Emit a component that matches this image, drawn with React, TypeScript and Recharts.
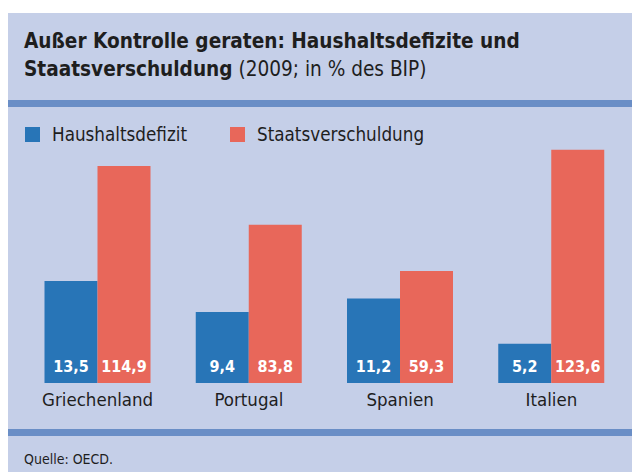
import { Bar, BarChart, LabelList, XAxis, YAxis } from "recharts";

const categories = ["Griechenland", "Portugal", "Spanien", "Italien"];
const haushaltsdefizit = [13.5, 9.4, 11.2, 5.2];
const staatsverschuldung = [114.9, 83.8, 59.3, 123.6];
const seriesNames = ["Haushaltsdefizit", "Staatsverschuldung"];

const BLUE = "#2875b7";
const RED = "#e8675a";
const PANEL = "#c5cfe8";
const STRIPE = "#6a8ec6";
const INK = "#1e1e1e";
const FONT = '"Liberation Sans Narrow", "DejaVu Sans Condensed", Roboto, sans-serif';

const data = categories.map((name, i) => ({
  name,
  defizit: haushaltsdefizit[i],
  schulden: staatsverschuldung[i],
}));

const fmt = (v: unknown) => Number(v).toFixed(1).replace(".", ",");

export default function App() {
  return (
    <div
      style={{
        position: "fixed",
        left: 0,
        top: 0,
        width: 632,
        height: 472,
        overflow: "hidden",
        background: "#fff",
        fontFamily: FONT,
        color: INK,
      }}
    >
      <div style={{ position: "absolute", left: 8, top: 13, width: 624, height: 459, background: PANEL }} />
      <div style={{ position: "absolute", left: 8, top: 100, width: 624, height: 7, background: STRIPE }} />
      <div style={{ position: "absolute", left: 8, top: 429, width: 624, height: 7, background: STRIPE }} />

      <div style={{ position: "absolute", left: 24, top: 27, fontSize: 20.6, lineHeight: "28px" }}>
        <div style={{ fontWeight: 700 }}>Außer Kontrolle geraten: Haushaltsdefizite und</div>
        <div>
          <span style={{ fontWeight: 700 }}>Staatsverschuldung</span> (2009; in % des BIP)
        </div>
      </div>

      {/* legend */}
      <div style={{ position: "absolute", left: 25, top: 124, display: "flex", alignItems: "center", fontSize: 18.7 }}>
        <span style={{ width: 15, height: 15, background: BLUE, display: "inline-block" }} />
        <span style={{ marginLeft: 12, width: 178 }}>{seriesNames[0]}</span>
        <span style={{ width: 15, height: 15, background: RED, display: "inline-block" }} />
        <span style={{ marginLeft: 12 }}>{seriesNames[1]}</span>
      </div>

      <div style={{ position: "absolute", left: 24, top: 451, fontSize: 14 }}>Quelle: OECD.</div>

      <div style={{ position: "absolute", left: 0, top: 0 }}>
        <BarChart
          width={632}
          height={472}
          data={data}
          margin={{ top: 147, right: 5, bottom: 59, left: 22 }}
          barGap={0}
          barCategoryGap={22.5}
        >
          <YAxis yAxisId="def" hide domain={[0, 31.25]} />
          <YAxis yAxisId="debt" hide domain={[0, 125]} />
          <XAxis
            dataKey="name"
            height={30}
            axisLine={false}
            tickLine={false}
            tickSize={0}
            tickMargin={10}
            interval={0}
            tick={{ fontSize: 18.5, fill: INK, fontFamily: FONT }}
          />
          <Bar yAxisId="def" dataKey="defizit" name={seriesNames[0]} fill={BLUE} isAnimationActive={false}>
            <LabelList
              dataKey="defizit"
              position="insideBottom"
              offset={11}
              formatter={fmt}
              style={{ fill: "#fff", fontSize: 16, fontWeight: 700, fontFamily: FONT }}
            />
          </Bar>
          <Bar yAxisId="debt" dataKey="schulden" name={seriesNames[1]} fill={RED} isAnimationActive={false}>
            <LabelList
              dataKey="schulden"
              position="insideBottom"
              offset={11}
              formatter={fmt}
              style={{ fill: "#fff", fontSize: 16, fontWeight: 700, fontFamily: FONT }}
            />
          </Bar>
        </BarChart>
      </div>
    </div>
  );
}
